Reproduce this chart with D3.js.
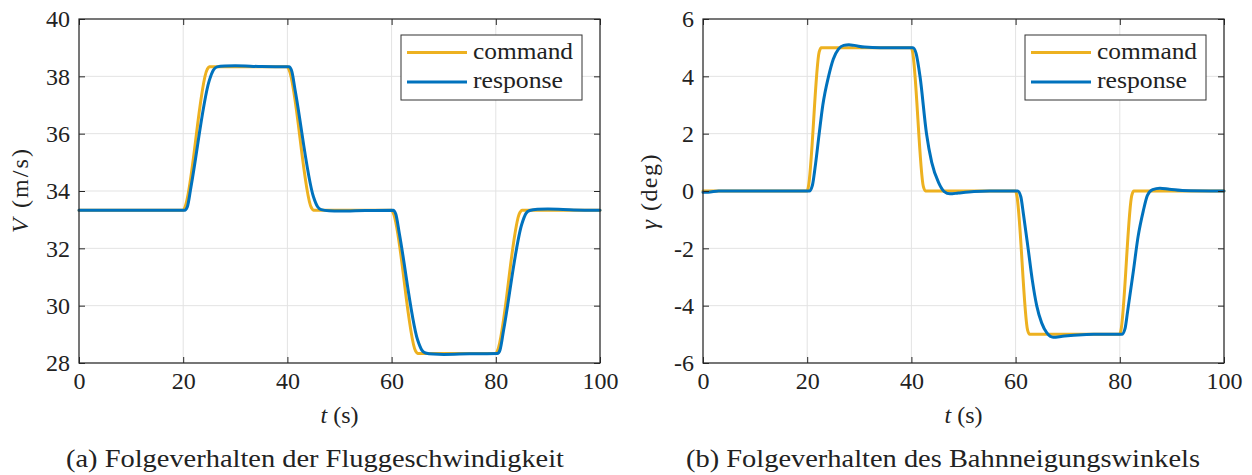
<!DOCTYPE html>
<html>
<head>
<meta charset="utf-8">
<script src="https://cdn.jsdelivr.net/npm/d3@7"></script>
<style>
  body { margin: 0; background: #fff; }
  svg { display: block; }
</style>
</head>
<body>
<svg id="chart" width="1252" height="475"></svg>
<script>
// Tick values
const tTicks = [0, 20, 40, 60, 80, 100];
const vTicks = [28, 30, 32, 34, 36, 38, 40];
const gammaTicks = [-6, -4, -2, 0, 2, 4, 6];
const seriesNames = ["command", "response"];

// Flight speed V (m/s) over time t (s)
const vCommand = [
  [0, 33.33], [20, 33.33], [20.3, 33.42], [24.6, 38.24], [25, 38.33],
  [40, 38.33], [40.3, 38.24], [44.6, 33.42], [45, 33.33],
  [60, 33.33], [60.3, 33.24], [64.6, 28.42], [65, 28.33],
  [80, 28.33], [80.3, 28.42], [84.6, 33.24], [85, 33.33], [100, 33.33]
];
const vResponse = [
  [0, 33.33], [20.3, 33.33], [20.8, 33.45], [21.5, 34.15], [25, 37.85],
  [25.8, 38.22], [26.5, 38.33], [28, 38.36], [30, 38.37], [35, 38.34],
  [40.3, 38.33], [40.8, 38.2], [41.5, 37.5], [45, 33.8], [45.8, 33.45],
  [46.5, 33.35], [48, 33.31], [50, 33.3], [55, 33.32],
  [60.3, 33.33], [60.8, 33.2], [61.5, 32.5], [65, 28.8], [65.8, 28.45],
  [66.5, 28.35], [68, 28.31], [70, 28.3], [75, 28.32],
  [80.3, 28.33], [80.8, 28.45], [81.5, 29.15], [85, 32.85], [85.8, 33.22],
  [86.5, 33.32], [88, 33.36], [90, 33.37], [95, 33.34], [100, 33.33]
];

// Flight path angle gamma (deg) over time t (s)
const gammaCommand = [
  [0, 0], [20, 0], [20.2, 0.12], [22.3, 4.85], [22.7, 5],
  [40, 5], [40.2, 4.88], [42.3, 0.15], [42.7, 0],
  [60, 0], [60.2, -0.12], [62.3, -4.85], [62.7, -5],
  [80, -5], [80.2, -4.88], [82.3, -0.15], [82.7, 0], [100, 0]
];
const gammaResponse = [
  [0, -0.04], [1, -0.04], [3, 0], [20.4, 0], [21, 0.2], [21.5, 0.8],
  [22.3, 2.0], [23, 3.0], [24.1, 4.0], [25, 4.6], [26, 4.95], [27, 5.08],
  [28, 5.1], [29, 5.08], [31, 5.02], [34, 5.0],
  [40.3, 5.0], [40.9, 4.8], [41.65, 4.0], [42.9, 2.0], [43.9, 1.0],
  [45.2, 0.3], [46.3, -0.02], [47.4, -0.1], [49, -0.07], [52, -0.02], [55, 0],
  [60.4, 0], [61, -0.2], [61.5, -0.8], [62.4, -2.0], [63.2, -3.1],
  [64.05, -4.0], [65, -4.6], [66, -4.95], [67.2, -5.1], [69, -5.07],
  [72, -5.02], [75, -5.0],
  [80.4, -5.0], [81, -4.8], [81.5, -4.2], [82.6, -2.8], [83.5, -1.6],
  [84.5, -0.7], [85.3, -0.15], [86.3, 0.05], [87.7, 0.1], [89.5, 0.06],
  [92, 0.02], [100, 0]
];

const colors = { command: "#EDB120", response: "#0072BD" };
const axisColor = "#262626";
const gridColor = "#e3e3e3";
const serif = "Liberation Serif, DejaVu Serif, serif";

const svg = d3.select("#chart").attr("font-family", serif);
svg.append("rect").attr("width", 1252).attr("height", 475).attr("fill", "#fff");

function drawPanel(opts) {
  const { left, right, top, bottom } = opts;
  const x = d3.scaleLinear().domain([0, 100]).range([left, right]);
  const y = d3.scaleLinear().domain(opts.yDomain).range([bottom, top]);
  const g = svg.append("g");

  // grid
  g.append("g").selectAll("line").data(tTicks).join("line")
    .attr("x1", (d) => x(d)).attr("x2", (d) => x(d))
    .attr("y1", top).attr("y2", bottom)
    .attr("stroke", gridColor).attr("stroke-width", 1);
  g.append("g").selectAll("line").data(opts.yTicks).join("line")
    .attr("x1", left).attr("x2", right)
    .attr("y1", (d) => y(d)).attr("y2", (d) => y(d))
    .attr("stroke", gridColor).attr("stroke-width", 1);

  // lines
  const line = d3.line()
    .x((d) => x(d[0]))
    .y((d) => y(d[1]))
    .curve(d3.curveMonotoneX);
  const series = [opts.command, opts.response];
  seriesNames.forEach((name, i) => {
    g.append("path")
      .datum(series[i])
      .attr("d", line)
      .attr("fill", "none")
      .attr("stroke", colors[name])
      .attr("stroke-width", 3)
      .attr("stroke-linejoin", "round")
      .attr("stroke-linecap", "round");
  });

  // axes (inward ticks, box on)
  const plain = (d) => String(d);
  const styleAxis = (sel) => {
    sel.attr("font-family", serif).attr("font-size", 24);
    sel.select(".domain").remove();
    sel.selectAll(".tick line").attr("stroke", axisColor).attr("stroke-width", 1);
    sel.selectAll("text").attr("fill", "#222");
  };
  const xAxis = g.append("g")
    .attr("transform", `translate(0,${bottom})`)
    .call(d3.axisBottom(x).tickValues(tTicks).tickFormat(plain).tickSize(-6).tickPadding(9))
    .call(styleAxis);
  xAxis.selectAll("text").attr("dy", "0.71em");
  g.append("g")
    .attr("transform", `translate(0,${top})`)
    .call(d3.axisTop(x).tickValues(tTicks).tickSize(-6).tickFormat(""))
    .call(styleAxis);
  g.append("g")
    .attr("transform", `translate(${left},0)`)
    .call(d3.axisLeft(y).tickValues(opts.yTicks).tickFormat(plain).tickSize(-6).tickPadding(9))
    .call(styleAxis);
  g.append("g")
    .attr("transform", `translate(${right},0)`)
    .call(d3.axisRight(y).tickValues(opts.yTicks).tickSize(-6).tickFormat(""))
    .call(styleAxis);

  // frame
  g.append("rect")
    .attr("x", left).attr("y", top)
    .attr("width", right - left).attr("height", bottom - top)
    .attr("fill", "none").attr("stroke", axisColor).attr("stroke-width", 1.2);

  // x label
  const xl = g.append("text")
    .attr("x", (left + right) / 2).attr("y", 423)
    .attr("text-anchor", "middle")
    .attr("fill", "#222").attr("font-size", 24);
  xl.append("tspan").attr("font-style", "italic").text("t");
  xl.append("tspan").text(" (s)");

  // y label
  const yl = g.append("text")
    .attr("transform", `translate(${opts.yLabelX},${opts.yLabelY}) rotate(-90)`)
    .attr("text-anchor", "middle")
    .attr("fill", "#222").attr("font-size", 24)
    .attr("textLength", opts.yLabelLen)
    .attr("lengthAdjust", "spacing");
  yl.append("tspan").attr("font-style", "italic").text(opts.yVar);
  yl.append("tspan").text(opts.yUnit);

  // legend
  const lx = right - 199, ly = top + 16;
  const legend = g.append("g").attr("transform", `translate(${lx},${ly})`);
  legend.append("rect")
    .attr("width", 181).attr("height", 65)
    .attr("fill", "#fff").attr("stroke", "#333").attr("stroke-width", 1);
  const legendLen = { command: 100, response: 90 };
  seriesNames.forEach((name, i) => {
    const yy = 17.5 + i * 29.5;
    legend.append("line")
      .attr("x1", 6).attr("x2", 66).attr("y1", yy).attr("y2", yy)
      .attr("stroke", colors[name]).attr("stroke-width", 3);
    legend.append("text")
      .attr("x", 72).attr("y", yy + 6)
      .attr("fill", "#222").attr("font-size", 24)
      .attr("textLength", legendLen[name])
      .attr("lengthAdjust", "spacingAndGlyphs")
      .text(name);
  });

  // caption
  svg.append("text")
    .attr("x", opts.captionX).attr("y", 467)
    .attr("text-anchor", "middle")
    .attr("fill", "#222").attr("font-size", 25)
    .attr("textLength", opts.captionLen)
    .attr("lengthAdjust", "spacingAndGlyphs")
    .text(opts.caption);
}

drawPanel({
  left: 79, right: 600, top: 19, bottom: 363,
  yDomain: [28, 40], yTicks: vTicks,
  command: vCommand, response: vResponse,
  yVar: "V", yUnit: " (m/s)", yLabelX: 28, yLabelY: 191, yLabelLen: 84,
  caption: "(a) Folgeverhalten der Fluggeschwindigkeit", captionX: 315, captionLen: 498
});

drawPanel({
  left: 703, right: 1224, top: 19, bottom: 363,
  yDomain: [-6, 6], yTicks: gammaTicks,
  command: gammaCommand, response: gammaResponse,
  yVar: "γ", yUnit: " (deg)", yLabelX: 657, yLabelY: 192, yLabelLen: 75,
  caption: "(b) Folgeverhalten des Bahnneigungswinkels", captionX: 943, captionLen: 514
});
</script>
</body>
</html>
